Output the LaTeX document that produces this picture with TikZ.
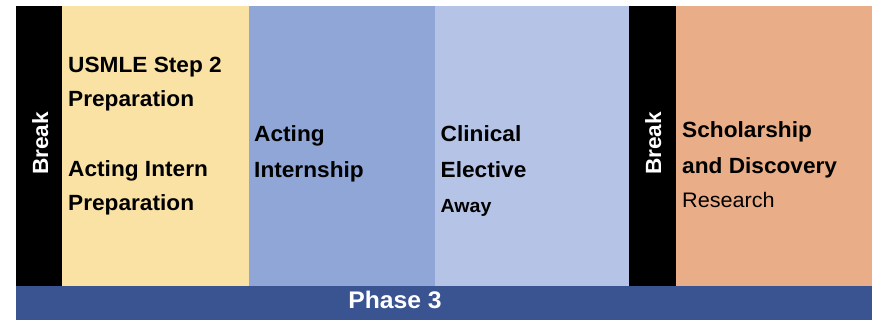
\documentclass[tikz,border=0pt]{standalone}
\usepackage{fontspec}
\setmainfont[FakeStretch=1.03]{Liberation Sans}
\definecolor{cyellow}{HTML}{F9E2A4}
\definecolor{cblueA}{HTML}{8FA6D6}
\definecolor{cblueB}{HTML}{B5C4E6}
\definecolor{corange}{HTML}{E9AE87}
\definecolor{cbar}{HTML}{3A5492}
\begin{document}
\begin{tikzpicture}[x=1pt,y=-1pt,
  lbl/.style={anchor=base west,inner sep=0pt,font=\fontsize{22}{26}\selectfont\bfseries},
  brk/.style={anchor=base,rotate=90,inner sep=0pt,text=white,font=\fontsize{22}{26}\selectfont\bfseries}]
\useasboundingbox (0,0) rectangle (872,326);
\fill[white] (0,0) rectangle (872,326);
% columns
\fill[black]   (16,6)  rectangle (62,286);
\fill[cyellow] (62,6)  rectangle (249,286);
\fill[cblueA]  (249,6) rectangle (435,286);
\fill[cblueB]  (435,6) rectangle (629,286);
\fill[black]   (629,6) rectangle (676,286);
\fill[corange] (676,6) rectangle (872,286);
% bottom bar
\fill[cbar] (16,286) rectangle (872,320);
% texts
\node[brk] (b1) at (48,143.5) {Break};
\node[brk] (b2) at (661,143.5) {Break};
\node[lbl] (u1) at (68,72.3) {USMLE Step 2};
\node[lbl] (u2) at (68,106.7) {Preparation};
\node[lbl] (u3) at (68,176) {Acting Intern};
\node[lbl] (u4) at (68,210.7) {Preparation};
\node[lbl] (a1) at (254,141.7) {Acting};
\node[lbl] (a2) at (254,177.2) {Internship};
\node[lbl] (c1) at (440.5,141.7) {Clinical};
\node[lbl] (c2) at (440.5,177.2) {Elective};
\node[lbl,font=\fontsize{19}{23}\selectfont\bfseries] (c3) at (440.5,212.7) {Away};
\node[lbl] (s1) at (682,137.7) {Scholarship};
\node[lbl] (s2) at (682,173.3) {and Discovery};
\node[lbl,font=\fontsize{21}{25}\selectfont] (s3) at (682,207.3) {Research};
\node[anchor=base,inner sep=0pt,text=white,font=\fontsize{24}{28}\selectfont\bfseries] (p3) at (395,308.3) {Phase 3};
\end{tikzpicture}
\end{document}
